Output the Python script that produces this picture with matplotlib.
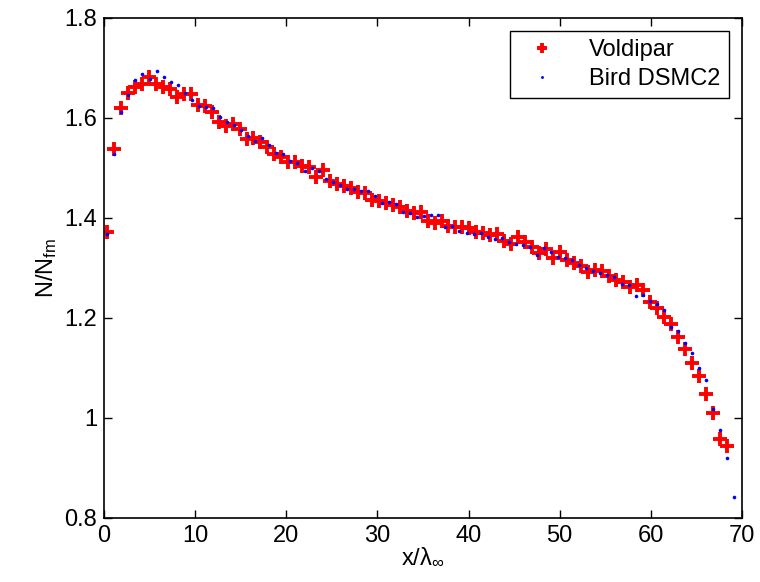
import numpy as np
import matplotlib
matplotlib.use('Agg')
import matplotlib.pyplot as plt

plt.rcParams['font.family'] = ['Liberation Sans', 'DejaVu Sans']
plt.rcParams['mathtext.default'] = 'regular'

# sample positions (cell centres) of the two data sets
x_voldipar = np.linspace(0.36, 68.36, 90)
x_bird = np.linspace(0.36, 69.15, 90)

n_voldipar = [
    1.371, 1.537, 1.620, 1.649, 1.662, 1.667, 1.681, 1.667, 1.662, 1.657,
    1.641, 1.647, 1.647, 1.625, 1.624, 1.612, 1.592, 1.584, 1.587, 1.577,
    1.558, 1.559, 1.551, 1.542, 1.527, 1.522, 1.512, 1.511, 1.503, 1.501,
    1.482, 1.495, 1.473, 1.468, 1.463, 1.460, 1.452, 1.450, 1.435, 1.433,
    1.430, 1.425, 1.421, 1.414, 1.409, 1.412, 1.394, 1.389, 1.394, 1.383,
    1.382, 1.381, 1.379, 1.372, 1.370, 1.366, 1.367, 1.353, 1.347, 1.361,
    1.351, 1.342, 1.329, 1.337, 1.319, 1.332, 1.315, 1.309, 1.304, 1.292,
    1.295, 1.294, 1.283, 1.276, 1.272, 1.262, 1.265, 1.255, 1.232, 1.219,
    1.202, 1.187, 1.162, 1.137, 1.110, 1.083, 1.048, 1.010, 0.957, 0.944,
]

n_bird = [
    1.367, 1.527, 1.611, 1.646, 1.675, 1.688, 1.677, 1.694, 1.682, 1.671,
    1.665, 1.649, 1.635, 1.624, 1.622, 1.619, 1.601, 1.592, 1.585, 1.575,
    1.563, 1.553, 1.559, 1.545, 1.529, 1.527, 1.513, 1.509, 1.493, 1.500,
    1.493, 1.477, 1.471, 1.465, 1.458, 1.457, 1.454, 1.454, 1.444, 1.429,
    1.431, 1.427, 1.411, 1.409, 1.401, 1.403, 1.405, 1.405, 1.381, 1.384,
    1.373, 1.370, 1.367, 1.370, 1.362, 1.357, 1.359, 1.352, 1.347, 1.345,
    1.341, 1.325, 1.339, 1.331, 1.321, 1.319, 1.315, 1.305, 1.300, 1.293,
    1.290, 1.285, 1.282, 1.268, 1.265, 1.243, 1.245, 1.233, 1.227, 1.215,
    1.181, 1.173, 1.149, 1.129, 1.100, 1.075, 1.018, 0.975, 0.920, 0.842,
]

xticks = [0, 10, 20, 30, 40, 50, 60, 70]
yticks = [0.8, 1.0, 1.2, 1.4, 1.6, 1.8]
ytick_labels = ['0.8', '1', '1.2', '1.4', '1.6', '1.8']

fig = plt.figure(figsize=(7.6, 5.82), dpi=100)
ax = fig.add_axes([0.1368, 0.1105, 0.8395, 0.8591])

ax.plot(x_voldipar, n_voldipar, '+', color='red', markersize=9.5,
        markeredgewidth=2.8, label='Voldipar')
ax.plot(x_bird, n_bird, 'o', color='blue', markersize=2.6,
        markeredgewidth=0, label='Bird DSMC2')

ax.set_xlim(0, 70)
ax.set_ylim(0.8, 1.8)
ax.set_xticks(xticks)
ax.set_xticklabels([str(t) for t in xticks])
ax.set_yticks(yticks)
ax.set_yticklabels(ytick_labels)
ax.tick_params(direction='in', length=6, width=1, labelsize=17,
               top=True, right=True, pad=5)
for s in ax.spines.values():
    s.set_linewidth(1.2)

ax.set_xlabel(r'x/λ$_{\infty}$', fontsize=17, labelpad=0)
ax.set_ylabel(r'N/N$_{fm}$', fontsize=17, labelpad=4)

leg = ax.legend(loc='upper right', fontsize=17, fancybox=False,
                framealpha=1, edgecolor='black', borderaxespad=0.55,
                handletextpad=1.0, borderpad=0.35, labelspacing=0.3,
                markerscale=0.8)
leg.get_frame().set_linewidth(1.0)

fig.savefig('out.png', dpi=100)
